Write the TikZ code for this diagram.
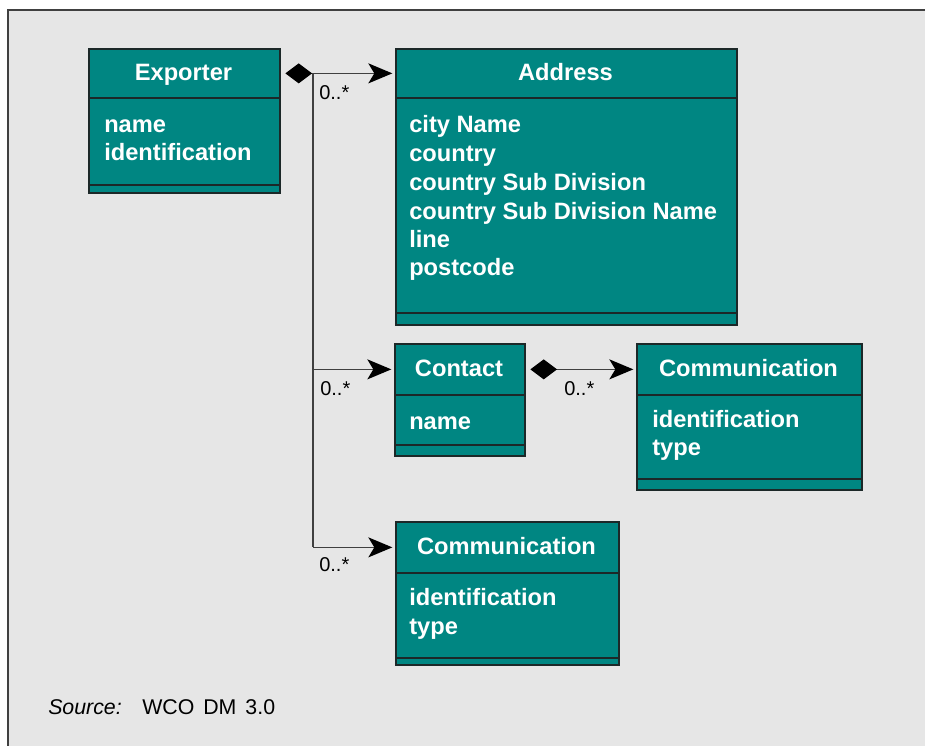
\documentclass[tikz,border=0pt]{standalone}
\usepackage{fontspec}
\setmainfont{Liberation Sans}
\usetikzlibrary{arrows.meta}
\definecolor{teal}{RGB}{0,134,130}
\definecolor{panel}{RGB}{230,230,230}
\definecolor{edge}{RGB}{28,40,40}
\definecolor{wire}{RGB}{64,64,64}
\tikzset{
  cpart/.style={draw=edge, line width=1.3pt, fill=teal, rectangle, inner sep=0pt, anchor=north west},
  ctitle/.style={text=white, font=\fontsize{17.75pt}{21pt}\selectfont\bfseries, anchor=base},
  cattr/.style={text=white, font=\fontsize{17.75pt}{21pt}\selectfont\bfseries, anchor=base west, inner sep=0pt},
  mult/.style={font=\fontsize{15pt}{18pt}\selectfont, anchor=base west, inner sep=0pt},
  assoc/.style={draw=wire, line width=1.25pt},
  tip/.style={-{Stealth[length=18pt,width=15pt,inset=4.5pt,black]}},
  dtip/.style={{Diamond[length=20pt,width=15pt,black]}-{Stealth[length=18pt,width=15pt,inset=4.5pt,black]}},
}
\newcommand{\umlclass}[8]{%
  % #1 name prefix, #2 x, #3 y top, #4 width, #5 title h, #6 attr h, #7 footer h, #8 title text
  \node[cpart, minimum width=#4*0.75pt, minimum height=#5*0.75pt] (#1T) at (#2,#3) {};
  \node[cpart, minimum width=#4*0.75pt, minimum height=#6*0.75pt] (#1A) at (#2,#3+#5) {};
  \node[cpart, minimum width=#4*0.75pt, minimum height=#7*0.75pt] (#1F) at (#2,#3+#5+#6) {};
  \node[ctitle] (#1N) at (#2+#4/2,#3+#5/2+8) {#8};
}
\begin{document}
\begin{tikzpicture}[x=0.75pt,y=-0.75pt]
\useasboundingbox (0,0) rectangle (925,746);
\clip (0,0) rectangle (925,746);
% panel
\fill[white] (0,0) rectangle (925,746);
\draw[fill=panel, draw=black!75, line width=1.3pt] (8,10) rectangle (940,760);

% classes
\umlclass{exp}{88}{48}{191}{49}{87}{8}{Exporter}
\node[cattr] (exp1) at (104,132) {name};
\node[cattr] (exp2) at (104,160) {identification};

\umlclass{adr}{395}{48}{341}{49}{215}{12}{Address}
\node[cattr] (adr1) at (409,132) {city Name};
\node[cattr] (adr2) at (409,161) {country};
\node[cattr] (adr3) at (409,190) {country Sub Division};
\node[cattr] (adr4) at (409,219) {country Sub Division Name};
\node[cattr] (adr5) at (409,247) {line};
\node[cattr] (adr6) at (409,275) {postcode};

\umlclass{con}{394}{343}{130}{51}{50}{11}{Contact}
\node[cattr] (con1) at (409,429) {name};

\umlclass{cmr}{636}{343}{225}{51}{84}{11}{Communication}
\node[cattr] (cmr1) at (652,427) {identification};
\node[cattr] (cmr2) at (652,455) {type};

\umlclass{cmb}{395}{521}{223}{51}{85}{7}{Communication}
\node[cattr] (cmb1) at (409,605) {identification};
\node[cattr] (cmb2) at (409,634) {type};

% associations
\coordinate (hub) at (313,0);
\draw[assoc, dtip] ([xshift=3.5pt]expT.east) -- ([xshift=-2pt]adrT.west);
\draw[assoc] (hub |- expT.east) -- (hub |- cmbT.west);
\draw[assoc, tip] (hub |- conT.west) -- ([xshift=-2pt]conT.west);
\draw[assoc, tip] (hub |- cmbT.west) -- ([xshift=-2pt]cmbT.west);
\draw[assoc, dtip] ([xshift=3.5pt]conT.east) -- ([xshift=-2pt]cmrT.west);

% multiplicities
\node[mult] (m1) at (319,99) {0..*};
\node[mult] (m2) at (320,395) {0..*};
\node[mult] (m3) at (564,395) {0..*};
\node[mult] (m4) at (319,571) {0..*};

% source line
\node[font=\fontsize{16pt}{19pt}\selectfont\itshape, anchor=base west, inner sep=0pt] (src) at (48,714) {Source:};
\node[font=\fontsize{16pt}{19pt}\selectfont, anchor=base west, inner sep=0pt] (srcv) at (142,714) {WCO\hspace{0.42em}DM\hspace{0.42em}3.0};
\end{tikzpicture}
\end{document}
